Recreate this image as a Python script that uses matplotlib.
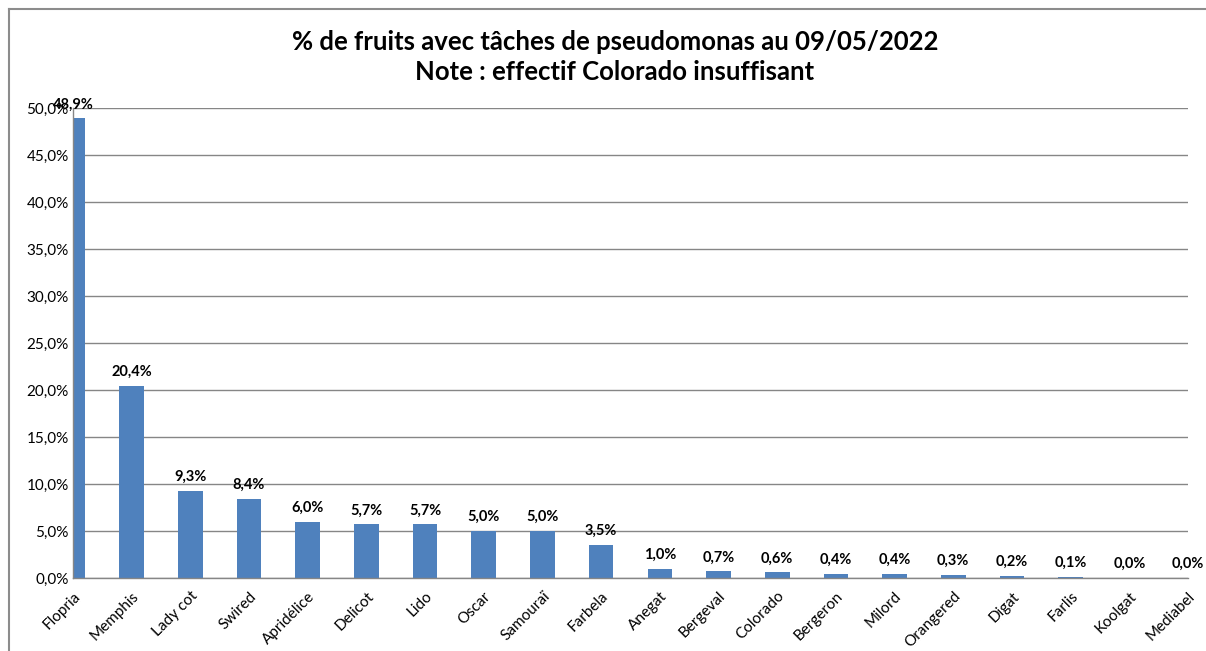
from matplotlib import pyplot as plt
from matplotlib.lines import Line2D

# varietes et pourcentage de fruits taches
varietes = ["Flopria", "Memphis", "Lady cot", "Swired", "Apridélice", "Delicot",
            "Lido", "Oscar", "Samouraï", "Farbela", "Anegat", "Bergeval",
            "Colorado", "Bergeron", "Milord", "Orangered", "Digat", "Farlis",
            "Koolgat", "Mediabel"]
pourcentages = [48.9, 20.4, 9.3, 8.4, 6.0, 5.7, 5.7, 5.0, 5.0, 3.5, 1.0, 0.7,
                0.6, 0.4, 0.4, 0.3, 0.2, 0.1, 0.0, 0.0]
graduations = [0, 5, 10, 15, 20, 25, 30, 35, 40, 45, 50]

titre = "% de fruits avec tâches de pseudomonas au 09/05/2022\nNote : effectif Colorado insuffisant"

plt.rcParams['font.family'] = ['Lato', 'DejaVu Sans']

def fr(v):
    return f"{v:.1f}%".replace('.', ',')

fig = plt.figure(figsize=(12.06, 6.51), dpi=100)
ax = fig.add_axes([73 / 1206, 73 / 651, 1115 / 1206, 470 / 651])

gris = "#868686"
x = list(range(len(varietes)))
ax.bar(x, pourcentages, width=0.42, color="#4F81BD", zorder=3)

for xi, v in zip(x, pourcentages):
    ax.annotate(fr(v), (xi, v), xytext=(0, 5), textcoords="offset points",
                ha="center", va="bottom", fontsize=10.5, fontweight="bold",
                annotation_clip=False)

ax.set_xlim(0, 19)
ax.set_ylim(0, 50)
ax.set_yticks(graduations)
ax.set_yticklabels([fr(g) for g in graduations], fontsize=11)
ax.set_xticks(x)
ax.set_xticklabels(varietes, rotation=45, ha="right", rotation_mode="anchor", fontsize=11)
ax.tick_params(axis="y", length=0, pad=3)
ax.tick_params(axis="x", length=0, pad=8)
ax.yaxis.grid(True, color=gris, linewidth=1, zorder=0)
ax.set_axisbelow(True)
for s in ["top", "right"]:
    ax.spines[s].set_visible(False)
for s in ["left", "bottom"]:
    ax.spines[s].set_color(gris)
    ax.spines[s].set_linewidth(1)
    ax.spines[s].set_zorder(4)

fig.text(615 / 1206, 1 - 57 / 651, titre, ha="center", va="center",
         fontsize=18.5, fontweight="bold", linespacing=1.3)

# cadre du graphique
fig.add_artist(Line2D([9 / 1206, 1], [1 - 9 / 651, 1 - 9 / 651], color="#8c8c8c", linewidth=1.5))
fig.add_artist(Line2D([9 / 1206, 9 / 1206], [0, 1 - 9 / 651], color="#8c8c8c", linewidth=1.5))

fig.savefig("out.png", dpi=100, facecolor="white")
